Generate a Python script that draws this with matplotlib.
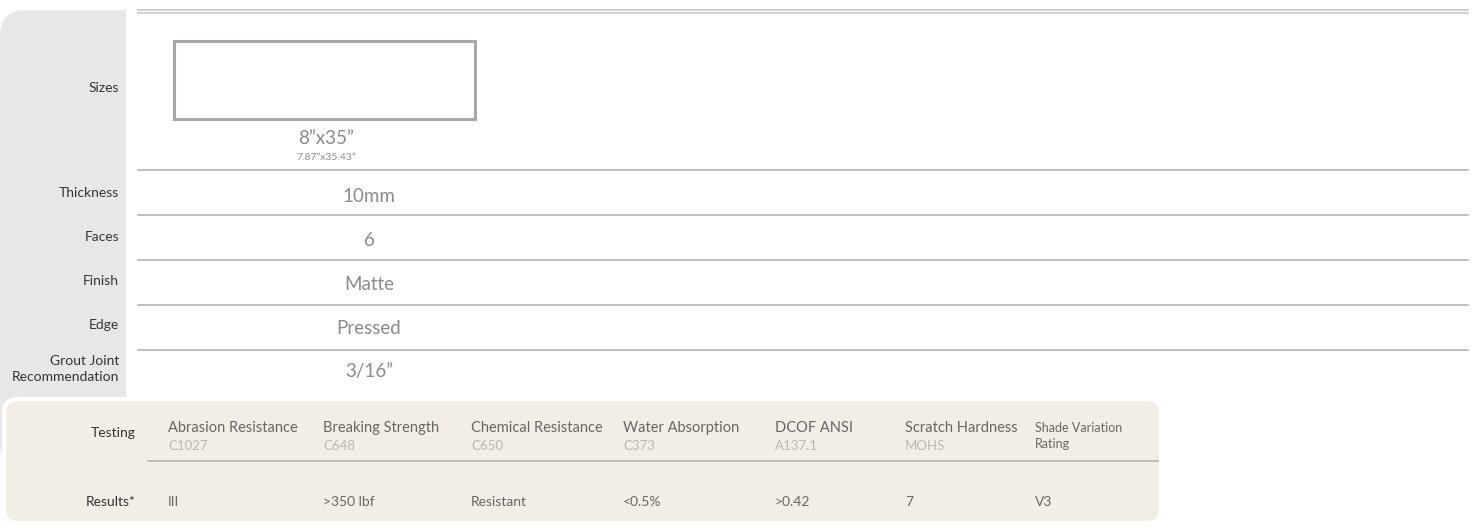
import matplotlib
matplotlib.use("Agg")
import matplotlib.pyplot as plt
from matplotlib.patches import FancyBboxPatch, Rectangle

# spec rows
row_labels = ["Thickness", "Faces", "Finish", "Edge", "Grout Joint\nRecommendation"]
row_values = ["10mm", "6", "Matte", "Pressed", "3/16\u201d"]
size_nominal = "8\u201dx35\u201d"
size_actual = "7.87\u201dx35.43\u201d"

# testing table
test_names = ["Abrasion Resistance", "Breaking Strength", "Chemical Resistance",
              "Water Absorption", "DCOF ANSI", "Scratch Hardness", "Shade Variation\nRating"]
test_codes = ["C1027", "C648", "C650", "C373", "A137.1", "MOHS", ""]
test_results = ["III", ">350 lbf", "Resistant", "<0.5%", ">0.42", "7", "V3"]

W, H = 1476, 528
FONT = "Lato"
GRAY_PANEL = "#e6e7e9"
BEIGE = "#f3eee5"
RULE = "#b4b4b4"
LABEL_COLOR = "#333333"
VALUE_COLOR = "#8a8a8a"

fig = plt.figure(figsize=(W / 100, H / 100), dpi=100)
ax = fig.add_axes([0, 0, 1, 1])
ax.set_xlim(0, W)
ax.set_ylim(H, 0)
ax.axis("off")

# grey label column with rounded top-left corner
ax.add_patch(FancyBboxPatch((0, 10), 126, 460, boxstyle="round,pad=0,rounding_size=26",
                            fc=GRAY_PANEL, ec="none", zorder=1))
ax.add_patch(Rectangle((60, 10), 66, 460, fc=GRAY_PANEL, ec="none", zorder=1))

# top double rule
ax.plot([138, 1468], [9.5, 9.5], color="#c8c8c8", lw=1.2, zorder=2)
ax.plot([138, 1468], [12.5, 12.5], color="#c8c8c8", lw=1.2, zorder=2)

# sizes row
ax.text(119, 88, "Sizes", ha="right", va="center", fontsize=10,
        family=FONT, color=LABEL_COLOR, zorder=3)
ax.add_patch(Rectangle((174, 41), 301, 78, fc="white", ec="#a8a8a8", lw=2.2, zorder=3))
ax.text(326, 139, size_nominal, ha="center", va="center", fontsize=13.5,
        family=FONT, color=VALUE_COLOR, zorder=3)
ax.text(326, 157, size_actual, ha="center", va="center", fontsize=7.5,
        family=FONT, color=VALUE_COLOR, zorder=3)

# other rows
rule_ys = [170, 215, 260, 305, 350]
row_centers = [196, 240, 284, 328, 372]
for y in rule_ys:
    ax.plot([138, 1468], [y, y], color=RULE, lw=1.2, zorder=2)
for label, value, y in zip(row_labels, row_values, row_centers):
    ax.text(119, y - 3, label, ha="right", va="center", fontsize=10,
            family=FONT, color=LABEL_COLOR, linespacing=1.35, zorder=3)
    ax.text(369, y, value, ha="center", va="center", fontsize=13.5,
            family=FONT, color=VALUE_COLOR, zorder=3)

# beige testing panel with white outline
ax.add_patch(FancyBboxPatch((4, 399), 1157, 124, boxstyle="round,pad=0,rounding_size=14",
                            fc=BEIGE, ec="white", lw=3, zorder=4))

col_x = [168, 323, 471, 623, 775, 905, 1035]
ax.text(136, 433, "Testing", ha="right", va="center", fontsize=10,
        family=FONT, color=LABEL_COLOR, zorder=5)
ax.text(136, 502, "Results*", ha="right", va="center", fontsize=10,
        family=FONT, color=LABEL_COLOR, zorder=5)
for x, name, code, res in zip(col_x, test_names, test_codes, test_results):
    if "\n" in name:
        ax.text(x, 436, name, ha="left", va="center", fontsize=9, family=FONT,
                color="#666666", linespacing=1.5, zorder=5)
    else:
        ax.text(x, 428, name, ha="left", va="center", fontsize=10.5, family=FONT,
                color="#666666", zorder=5)
        ax.text(x, 446, code, ha="left", va="center", fontsize=9.5, family=FONT,
                color="#b8b8b8", zorder=5)
    ax.text(x, 502, res, ha="left", va="center", fontsize=10, family=FONT,
            color="#666666", zorder=5)
ax.plot([148, 1158], [461, 461], color=RULE, lw=1.2, zorder=5)

fig.savefig("out.png", dpi=100, facecolor="white")
